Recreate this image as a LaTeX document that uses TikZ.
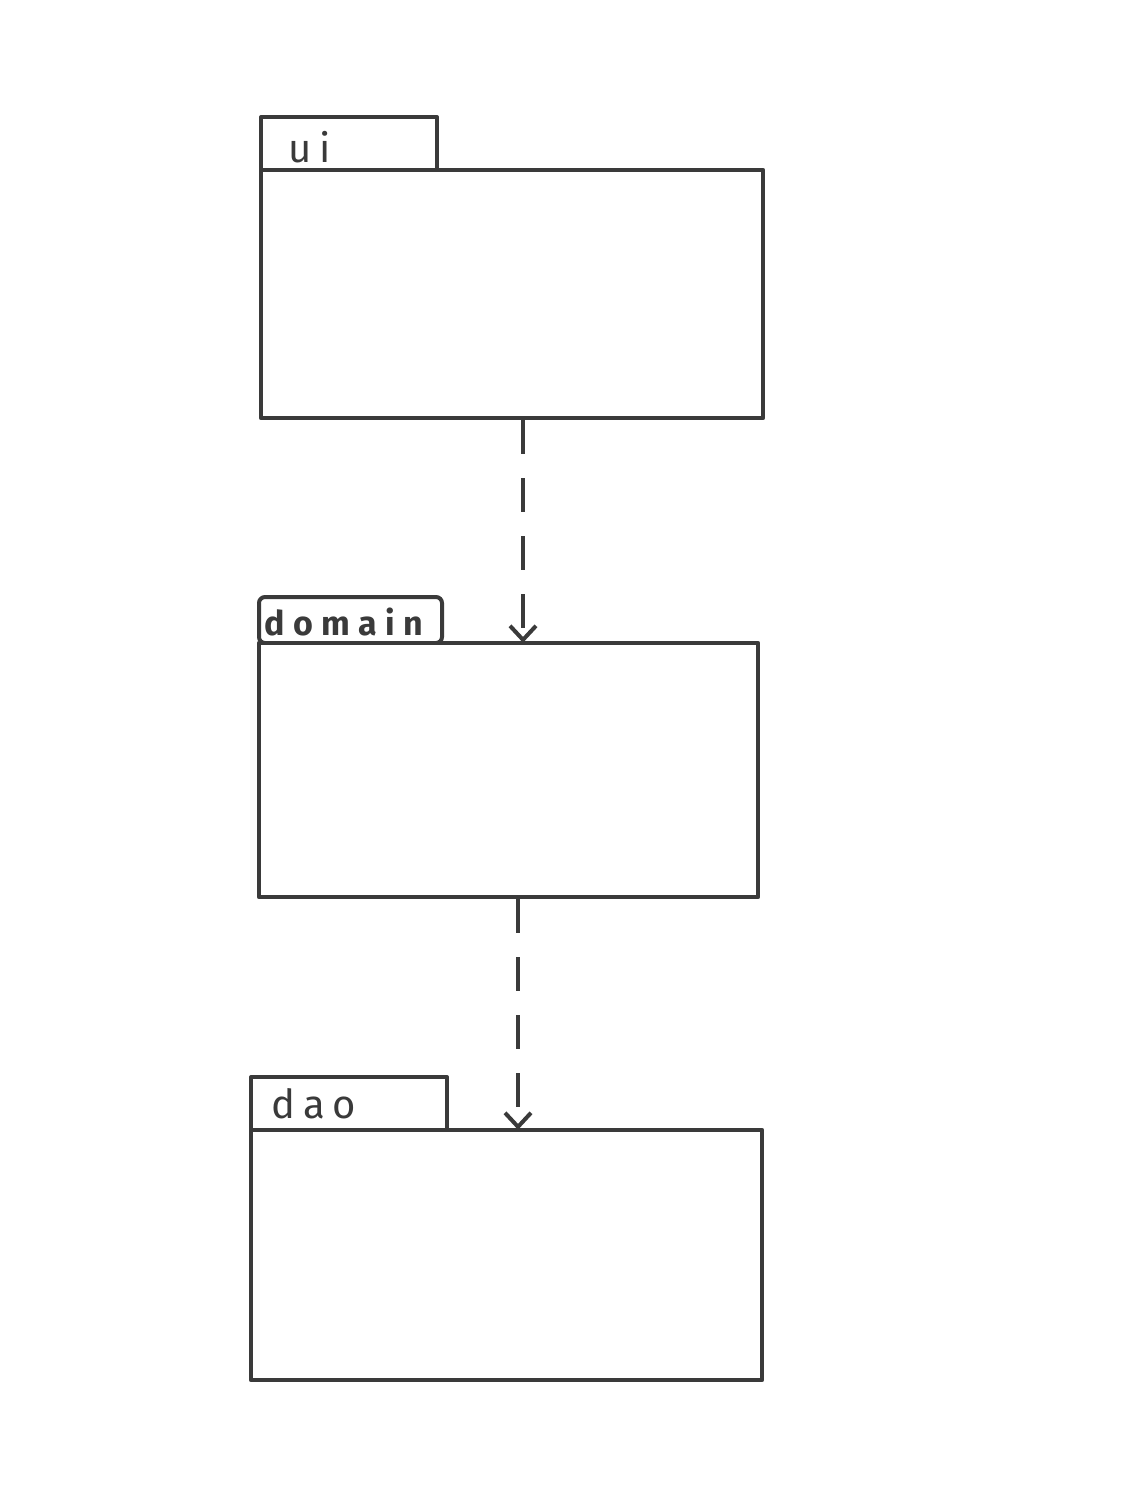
\documentclass[tikz,border=0pt]{standalone}
\usepackage{fontspec}
\setmainfont{Fira Sans}
\usetikzlibrary{arrows.meta}
\definecolor{ink}{HTML}{3A3A3A}
\begin{document}
\begin{tikzpicture}[x=1pt,y=-1pt,
  pkgbody/.style={draw=ink,line width=4.5pt,minimum width=#1,inner sep=0pt,line join=round},
  pkgtab/.style={draw=ink,line width=4pt,inner sep=0pt,line join=round},
  pkglabel/.style={text=ink,font=\fontsize{40}{42}\selectfont\addfontfeature{LetterSpace=20},anchor=west,inner sep=0pt},
  dep/.style={draw=ink,line width=4.5pt,dash pattern=on 34pt off 24pt,-{Straight Barb[length=14pt,width=26pt,line width=4pt]}}
]
\useasboundingbox[fill=white] (0,0) rectangle (1124,1497);
% ui package
\node[pkgtab,minimum width=176pt,minimum height=53pt] (uitab) at (349,143.5) {};
\node[pkgbody=502pt,minimum height=248pt,fill=white] (uibody) at (512,294) {};
\node[pkglabel] (uilabel) at (288,147) {ui};
% domain package
\node[pkgtab,minimum width=183pt,minimum height=46pt,rounded corners=6pt] (domtab) at (350.5,620) {};
\node[pkgbody=499pt,minimum height=254pt,fill=white] (dombody) at (508.5,770) {};
\node[pkglabel,font=\bfseries\fontsize{34}{36}\selectfont\addfontfeature{LetterSpace=25}] (domlabel) at (264,622) {domain};
% dao package
\node[pkgtab,minimum width=196pt,minimum height=53pt] (daotab) at (349,1103.5) {};
\node[pkgbody=511pt,minimum height=250pt,fill=white] (daobody) at (506.5,1255) {};
\node[pkglabel] (daolabel) at (271,1104) {dao};
% dependencies
\draw[dep] ([xshift=11pt]uibody.south) -- ([xshift=14.5pt,yshift=-2pt]dombody.north);
\draw[dep] ([xshift=9.5pt]dombody.south) -- ([xshift=11.5pt,yshift=-2pt]daobody.north);
\end{tikzpicture}
\end{document}
